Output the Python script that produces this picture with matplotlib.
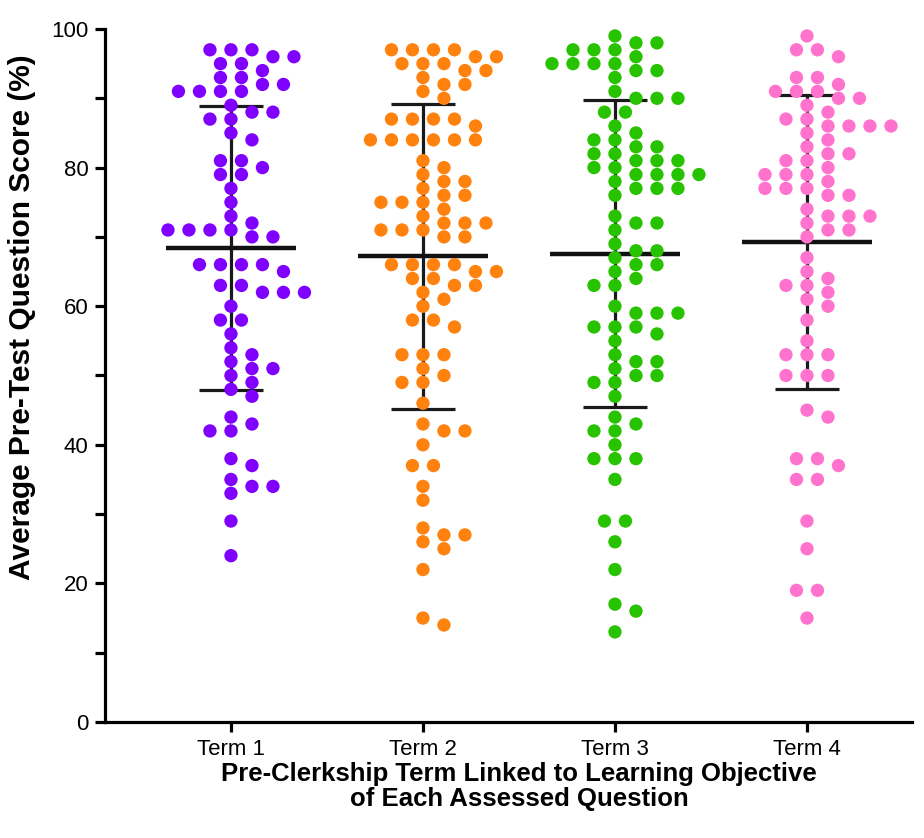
import numpy as np
import matplotlib
matplotlib.use("Agg")
import matplotlib.pyplot as plt

plt.rcParams["font.family"] = ["Liberation Sans", "DejaVu Sans"]

terms = ["Term 1", "Term 2", "Term 3", "Term 4"]
colors = ["#8000ff", "#ff820e", "#27c300", "#ff73cf"]

term1 = [97, 97, 97, 96, 96, 95, 95, 94, 93, 93, 92, 92, 91, 91, 91, 91, 89, 88, 88,
         87, 87, 85, 84, 81, 81, 80, 79, 79, 77, 75, 73, 72, 71, 71, 71, 71, 70, 70,
         66, 66, 66, 66, 65, 63, 63, 62, 62, 62, 60, 58, 58, 56, 54, 53, 52, 51, 51,
         50, 49, 48, 47, 44, 43, 42, 42, 38, 37, 35, 34, 34, 33, 29, 24]
term2 = [97, 97, 97, 97, 96, 96, 95, 95, 95, 94, 94, 93, 92, 92, 91, 90, 87, 87, 87,
         87, 86, 84, 84, 84, 84, 84, 84, 81, 80, 79, 78, 78, 77, 76, 76, 75, 75, 75,
         74, 73, 72, 72, 72, 71, 71, 71, 70, 70, 66, 66, 66, 66, 65, 65, 64, 64, 63,
         63, 62, 61, 60, 58, 58, 57, 53, 53, 53, 51, 50, 49, 49, 46, 43, 42, 42, 40,
         37, 37, 34, 32, 28, 27, 27, 26, 25, 22, 15, 14]
term3 = [99, 98, 98, 97, 97, 97, 96, 95, 95, 95, 95, 94, 94, 93, 91, 90, 90, 90, 88,
         88, 86, 85, 84, 84, 83, 83, 82, 82, 81, 81, 81, 80, 80, 79, 79, 79, 79, 78,
         77, 77, 77, 76, 73, 72, 72, 71, 69, 68, 68, 67, 66, 66, 65, 64, 63, 63, 60,
         59, 59, 59, 57, 57, 57, 56, 55, 53, 52, 52, 51, 50, 50, 49, 49, 47, 44, 43,
         42, 42, 40, 38, 38, 38, 35, 29, 29, 26, 22, 17, 16, 13]
term4 = [99, 97, 97, 96, 93, 93, 92, 91, 91, 91, 90, 90, 89, 88, 87, 87, 86, 86, 86,
         86, 85, 84, 83, 82, 82, 81, 81, 80, 79, 79, 79, 78, 77, 77, 77, 76, 76, 74,
         73, 73, 73, 72, 71, 71, 70, 67, 65, 64, 63, 63, 62, 61, 60, 58, 55, 53, 53,
         53, 50, 50, 50, 45, 44, 38, 38, 37, 35, 35, 29, 25, 19, 19, 15]
groups = [term1, term2, term3, term4]

# figure / axes geometry in pixels (dpi 100)
W, H = 924, 838
ax_left, ax_right, ax_top, ax_bottom = 105, 912, 29, 722
xlim = (-0.656, 3.547)
ylim = (0, 100)
px_per_x = (ax_right - ax_left) / (xlim[1] - xlim[0])
px_per_y = (ax_bottom - ax_top) / (ylim[1] - ylim[0])


def swarm_offsets(values, row_step=21.0, min_dist=13.8):
    """Prism-style column scatter: equal values share a row, rows slide
    sideways on a half-step grid until they clear the dots already placed."""
    vals = np.asarray(values, dtype=float)
    out = np.zeros(len(vals))
    placed = []
    half = row_step / 2
    for v in sorted(set(vals), reverse=True):
        idx = np.where(vals == v)[0]
        n = len(idx)
        y = v * px_per_y
        base = (np.arange(n) - (n - 1) / 2) * row_step
        shifts = [0.0]
        for k in range(1, 40):
            shifts += [k * half, -k * half]
        for s in shifts:
            xs = base + s
            ok = True
            for px, py in placed:
                if abs(py - y) >= min_dist:
                    continue
                if np.any(np.hypot(xs - px, y - py) < min_dist - 0.01):
                    ok = False
                    break
            if ok:
                break
        for i, x in zip(idx, xs):
            out[i] = x
            placed.append((x, y))
    return out / px_per_x


fig = plt.figure(figsize=(W / 100, H / 100), dpi=100)
ax = fig.add_axes([ax_left / W, 1 - ax_bottom / H,
                   (ax_right - ax_left) / W, (ax_bottom - ax_top) / H])

for i, (vals, col) in enumerate(zip(groups, colors)):
    vals = np.asarray(vals, dtype=float)
    m, sd = vals.mean(), vals.std(ddof=1)
    ax.errorbar(i, m, yerr=sd, fmt="none", ecolor="#1a1a1a", elinewidth=2.3,
                capsize=23, capthick=2.3, zorder=2)
    ax.hlines(m, i - 0.34, i + 0.34, color="#111111", lw=3.2, zorder=2)
    ax.scatter(i + swarm_offsets(vals), vals, s=92, color=col,
               edgecolors="none", zorder=3)

ax.set_xlim(*xlim)
ax.set_ylim(*ylim)
ax.set_xticks(range(len(terms)))
ax.set_xticklabels(terms)
ax.set_yticks(np.arange(0, 101, 20))
ax.set_yticks(np.arange(10, 100, 20), minor=True)

for side in ("top", "right"):
    ax.spines[side].set_visible(False)
for side in ("left", "bottom"):
    ax.spines[side].set_linewidth(2.3)
ax.tick_params(axis="both", which="both", width=2.3, direction="out",
               labelsize=16, color="black")
ax.tick_params(axis="both", which="major", length=7, pad=5)
ax.tick_params(axis="y", which="minor", length=7)

ax.set_ylabel("Average Pre-Test Question Score (%)", fontsize=21.5,
              fontweight="bold")
ax.yaxis.set_label_coords((36 - ax_left) / (ax_right - ax_left), 0.584)
ax.set_xlabel("Pre-Clerkship Term Linked to Learning Objective\n"
              "of Each Assessed Question", fontsize=18.5, fontweight="bold",
              linespacing=1.1)
ax.xaxis.set_label_coords((519 - ax_left) / (ax_right - ax_left), -0.057)
ax.xaxis.label.set_va("top")

fig.savefig("out.png", dpi=100)
